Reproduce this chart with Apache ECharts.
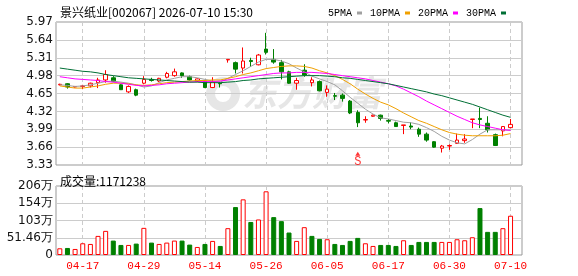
<!DOCTYPE html>
<html>
<head>
<meta charset="utf-8">
<title>景兴纸业 日K</title>
<script src="https://cdn.jsdelivr.net/npm/echarts@6/dist/echarts.min.js"></script>
</head>
<body style="margin:0">
<div id="main" style="width:578px;height:276px;"></div>
<script type="text/javascript">

var dates = ['04-14','04-15','04-16','04-17','04-20','04-21','04-22','04-23','04-24','04-27',
  '04-28','04-29','04-30','05-06','05-07','05-08','05-11','05-12','05-13','05-14',
  '05-15','05-18','05-19','05-20','05-21','05-22','05-25','05-26','05-27','05-28',
  '05-29','06-01','06-02','06-03','06-04','06-05','06-08','06-09','06-10','06-11',
  '06-12','06-15','06-16','06-17','06-18','06-22','06-23','06-24','06-25','06-26',
  '06-29','06-30','07-01','07-02','07-03','07-06','07-07','07-08','07-09','07-10'];

var opens = [4.81,4.83,4.77,4.78,4.79,4.85,4.90,4.94,4.81,4.68,
  4.72,4.84,4.91,4.88,4.95,4.98,5.03,4.96,4.88,4.88,
  4.76,4.84,5.27,5.22,5.12,5.26,5.18,5.47,5.28,5.22,
  5.05,4.84,5.08,4.85,4.87,4.67,4.61,4.62,4.51,4.30,
  4.16,4.23,4.25,4.15,4.11,4.06,4.05,3.99,3.90,3.76,
  3.64,3.68,3.73,3.78,4.17,4.19,4.10,3.89,3.96,4.02];
var closes = [4.82,4.77,4.78,4.79,4.84,4.90,5.00,4.87,4.72,4.78,
  4.62,4.91,4.89,4.93,5.02,5.05,4.98,4.90,4.92,4.76,
  4.86,4.83,5.28,5.10,5.25,5.24,5.36,5.41,5.23,5.05,
  4.84,4.89,4.99,4.90,4.70,4.73,4.60,4.56,4.29,4.11,
  4.17,4.25,4.19,4.14,4.04,4.07,4.03,3.90,3.79,3.66,
  3.68,3.69,3.79,3.81,4.18,4.17,3.98,3.69,4.04,4.08];
var lows = [4.80,4.74,4.76,4.73,4.76,4.75,4.85,4.86,4.72,4.66,
  4.60,4.82,4.87,4.86,4.93,4.96,4.94,4.89,4.86,4.75,
  4.75,4.76,5.22,5.02,5.02,5.14,5.17,5.37,5.20,4.91,
  4.83,4.72,4.96,4.78,4.69,4.59,4.53,4.50,4.27,4.03,
  4.11,4.22,4.15,4.10,4.04,3.90,3.99,3.85,3.76,3.65,
  3.56,3.61,3.72,3.74,4.01,4.01,3.93,3.68,3.86,4.01];
var highs = [4.83,4.84,4.78,4.81,4.85,4.94,5.08,4.97,4.82,4.80,
  4.74,4.97,4.94,4.94,5.05,5.11,5.04,4.98,4.93,4.89,
  4.95,4.86,5.28,5.24,5.50,5.31,5.38,5.77,5.47,5.27,
  5.07,4.94,5.19,4.95,4.89,4.80,4.66,4.65,4.53,4.34,
  4.23,4.26,4.26,4.18,4.13,4.07,4.12,4.02,3.93,3.77,
  3.70,3.71,3.91,3.90,4.18,4.39,4.23,3.91,4.05,4.18];

// 成交量, 单位: 万
var volumes = [20,21,18,35,33,57,72,43,30,30,
  34,81,37,33,37,43,43,31,24,33,
  42,27,80,143,166,98.5,106,190,113,101,
  67,42,83,57,48,47,33,30,42,51,
  35,27,30,30,27,44,30,39,39,39,
  39,39,47,44,53,140,69,69,80,117.1238];

var ma5 = [4.81,4.80,4.78,4.79,4.81,4.84,4.87,4.88,4.86,4.84,
  4.81,4.77,4.79,4.85,4.90,4.93,4.96,4.96,4.94,4.91,
  4.88,4.86,4.93,5.00,5.07,5.15,5.23,5.28,5.28,5.25,
  5.20,5.12,5.05,4.97,4.92,4.87,4.81,4.70,4.58,4.47,
  4.36,4.27,4.20,4.18,4.15,4.12,4.11,4.08,4.02,3.95,
  3.86,3.79,3.74,3.72,3.80,3.90,3.98,3.98,3.98,3.97];
var ma10 = [4.79,4.77,4.75,4.75,4.77,4.79,4.82,4.84,4.84,4.83,
  4.81,4.80,4.81,4.83,4.85,4.86,4.87,4.88,4.89,4.89,
  4.90,4.90,4.93,4.96,5.00,5.03,5.07,5.11,5.13,5.15,
  5.16,5.16,5.15,5.12,5.07,5.03,4.98,4.91,4.83,4.73,
  4.64,4.56,4.49,4.44,4.37,4.29,4.22,4.15,4.10,4.04,
  3.98,3.93,3.90,3.88,3.87,3.87,3.87,3.87,3.88,3.91];
var ma20 = [4.96,4.94,4.92,4.91,4.90,4.89,4.87,4.86,4.84,4.82,
  4.80,4.79,4.80,4.81,4.83,4.84,4.85,4.86,4.87,4.87,
  4.87,4.88,4.90,4.92,4.94,4.96,4.98,5.00,5.02,5.03,
  5.03,5.04,5.04,5.04,5.03,5.02,5.00,4.98,4.96,4.94,
  4.92,4.89,4.86,4.83,4.79,4.73,4.66,4.59,4.51,4.44,
  4.37,4.30,4.23,4.17,4.11,4.07,4.04,4.01,3.98,3.97];
var ma30 = [5.12,5.10,5.08,5.06,5.05,5.03,5.00,4.98,4.96,4.94,
  4.93,4.92,4.91,4.90,4.89,4.88,4.87,4.86,4.86,4.85,
  4.85,4.85,4.86,4.87,4.89,4.90,4.92,4.93,4.94,4.95,
  4.96,4.97,4.98,4.98,4.98,4.97,4.96,4.94,4.93,4.91,
  4.89,4.87,4.85,4.83,4.80,4.77,4.74,4.71,4.68,4.64,
  4.61,4.57,4.53,4.49,4.45,4.40,4.35,4.30,4.25,4.21];

var priceTicks = [3.33,3.66,3.99,4.32,4.65,4.98,5.31,5.64,5.97];
var volTicks = [0,51.46,102.92,154.38,205.84];

// 买卖点标记
var signalIdx = [39];
var signalPrice = [3.54];
var signalText = ['S'];

var UP = '#ff0000', DOWN = '#008000';
var maNames = ['5PMA','10PMA','20PMA','30PMA'];
var maColors = ['#a0a0a0','#f0a000','#ff00ff','#006f35'];
var maData = [ma5, ma10, ma20, ma30];

// one empty slot after the last day, like the original
var cats = dates.concat(['']);

function labelAt(index) {
  return index < dates.length && (index - 3) % 8 === 0;
}

var candleData = [];
for (var i = 0; i < dates.length; i++) {
  candleData.push([opens[i], closes[i], lows[i], highs[i]]);
}

var volData = [];
for (var i = 0; i < volumes.length; i++) {
  var up = i === 0 ? closes[i] >= opens[i] : closes[i] > closes[i - 1];
  volData.push({
    value: volumes[i],
    itemStyle: up ? {color: '#fff', borderColor: UP, borderWidth: 1}
                  : {color: DOWN, borderColor: DOWN, borderWidth: 1}
  });
}

var signalData = [];
for (var i = 0; i < signalIdx.length; i++) {
  signalData.push({value: [signalIdx[i], signalPrice[i]], name: signalText[i]});
}

var myChart = echarts.init(document.getElementById('main'));

var splitDash = {show: true, interval: labelAt, alignWithLabel: true,
  lineStyle: {color: '#cccccc', type: [4, 3], width: 1}};

var series = [{
  name: 'K',
  type: 'candlestick',
  xAxisIndex: 0, yAxisIndex: 0,
  data: candleData,
  barWidth: 4,
  itemStyle: {color: '#fff', color0: DOWN, borderColor: UP, borderColor0: DOWN, borderWidth: 1},
  z: 3
}];
for (var k = 0; k < maNames.length; k++) {
  series.push({
    name: maNames[k],
    type: 'line',
    xAxisIndex: 0, yAxisIndex: 0,
    data: maData[k],
    symbol: 'none',
    lineStyle: {color: maColors[k], width: 1},
    itemStyle: {color: maColors[k]},
    z: 4
  });
}
series.push({
  name: 'signal',
  type: 'scatter',
  xAxisIndex: 0, yAxisIndex: 0,
  data: signalData,
  symbol: 'triangle',
  symbolSize: [5, 4],
  itemStyle: {color: UP},
  label: {show: true, position: 'bottom', distance: 0, formatter: '{b}', color: UP,
    fontSize: 12, fontFamily: 'Liberation Mono'},
  z: 5
});
series.push({
  name: 'VOL',
  type: 'bar',
  xAxisIndex: 1, yAxisIndex: 1,
  data: volData,
  barWidth: 5
});

var option = {
  animation: false,
  backgroundColor: '#fff',
  title: [{
    text: '景兴纸业[002067] 2026-07-10 15:30',
    left: 55, top: 1,
    textStyle: {fontSize: 12, fontWeight: 'normal', color: '#000', fontFamily: '"Noto Sans CJK SC", sans-serif'}
  }, {
    text: '成交量:' + Math.round(volumes[volumes.length - 1] * 10000),
    left: 55, top: 170,
    textStyle: {fontSize: 12, fontWeight: 'normal', color: '#000', fontFamily: '"Noto Sans CJK SC", sans-serif'}
  }],
  legend: {
    data: maNames,
    right: 67, top: 3,
    align: 'right',
    icon: 'rect',
    itemWidth: 5, itemHeight: 3,
    itemGap: 8,
    selectedMode: false,
    textStyle: {fontSize: 10, color: '#000', fontFamily: 'Liberation Mono'}
  },
  graphic: [{
    type: 'ring',
    shape: {cx: 223, cy: 94, r: 17, r0: 8},
    style: {fill: '#e6e6e6'},
    z: 0, silent: true
  }, {
    type: 'text',
    left: 242, top: 75,
    style: {text: '东方财富', fontSize: 35, fontWeight: 'bold', fontStyle: 'italic',
      fill: '#e6e6e6', fontFamily: '"Noto Sans CJK SC", sans-serif'},
    z: 0, silent: true
  }],
  grid: [
    {left: 56, top: 22, width: 466, height: 143, show: true, borderColor: '#999', borderWidth: 1},
    {left: 56, top: 186, width: 466, height: 69, show: true, borderColor: '#999', borderWidth: 1}
  ],
  xAxis: [{
    type: 'category', gridIndex: 0, data: cats, boundaryGap: true,
    axisLine: {show: false}, axisTick: {show: false}, axisLabel: {show: false},
    splitLine: splitDash
  }, {
    type: 'category', gridIndex: 1, data: cats, boundaryGap: true,
    axisLine: {show: false}, axisTick: {show: false},
    axisLabel: {interval: labelAt, color: UP, fontSize: 11, fontFamily: 'Liberation Mono', margin: 6},
    splitLine: splitDash
  }],
  yAxis: [{
    type: 'value', gridIndex: 0, min: 3.33, max: 5.97,
    axisLine: {show: false},
    axisTick: {show: false, customValues: priceTicks},
    axisLabel: {customValues: priceTicks, color: '#111', fontSize: 12, fontFamily: 'DejaVu Sans', margin: 3,
      formatter: function (v) { return v.toFixed(2); }},
    splitLine: {lineStyle: {color: '#cccccc', width: 1}}
  }, {
    type: 'value', gridIndex: 1, min: 0, max: 205.84,
    axisLine: {show: false},
    axisTick: {show: false, customValues: volTicks},
    axisLabel: {customValues: volTicks, color: '#111', fontSize: 12, fontFamily: 'DejaVu Sans', margin: 3,
      formatter: function (v) {
        if (v === 0) return '0';
        if (v < 100) return v.toFixed(2) + '万';
        return Math.round(v) + '万';
      }},
    splitLine: {lineStyle: {color: '#cccccc', width: 1}}
  }],
  series: series
};

myChart.setOption(option);

</script>
</body>
</html>
